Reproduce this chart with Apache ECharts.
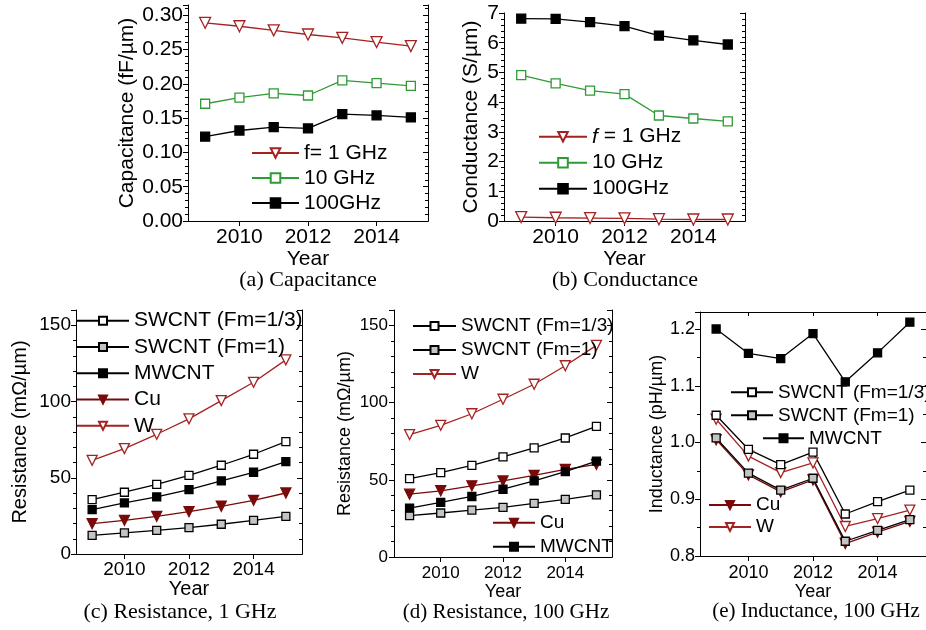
<!DOCTYPE html>
<html>
<head>
<meta charset="utf-8">
<script src="https://cdn.jsdelivr.net/npm/echarts@6/dist/echarts.min.js"></script>
<style>
html, body { margin: 0; padding: 0; background: #fff; }
#chart { width: 926px; height: 630px; }
</style>
</head>
<body>
<div id="chart"></div>
<script>
//years on every x axis, labelled years
const years = [2009, 2010, 2011, 2012, 2013, 2014, 2015];
const yearLabels = [2010, 2012, 2014];

//(a) capacitance (fF/um)
const cap1 = [0.289, 0.284, 0.278, 0.272, 0.267, 0.261, 0.255];
const cap10 = [0.171, 0.180, 0.186, 0.183, 0.205, 0.201, 0.197];
const cap100 = [0.123, 0.132, 0.137, 0.135, 0.156, 0.154, 0.151];

//(b) conductance (S/um)
const cond1 = [0.13, 0.11, 0.10, 0.09, 0.06, 0.05, 0.05];
const cond10 = [4.91, 4.63, 4.39, 4.27, 3.55, 3.45, 3.35];
const cond100 = [6.81, 6.80, 6.69, 6.56, 6.24, 6.08, 5.94];

//(c) resistance, 1 GHz (mOhm/um)
const r1Sw3 = [35.6, 40.5, 45.7, 51.6, 58.2, 65.4, 73.7];
const r1Sw1 = [12.2, 13.8, 15.5, 17.3, 19.5, 22.1, 24.7];
const r1Mw = [29.1, 33.5, 37.4, 42.2, 47.9, 53.6, 60.6];
const r1Cu = [19.9, 22.1, 24.7, 27.8, 31.3, 35.2, 40.0];
const r1W = [61.4, 69.1, 78.5, 88.6, 100.6, 112.6, 127.3];

//(d) resistance, 100 GHz (mOhm/um)
const r100Sw3 = [50.8, 54.6, 59.4, 64.9, 70.7, 77.1, 84.6];
const r100Sw1 = [26.8, 28.5, 30.4, 32.1, 34.7, 37.3, 40.3];
const r100Mw = [31.7, 35.4, 39.2, 43.9, 49.3, 55.3, 62.1];
const r100Cu = [40.7, 42.9, 46.1, 49.3, 52.9, 56.8, 60.0];
const r100W = [79.3, 85.3, 92.8, 102.2, 111.9, 123.9, 137.1];

//(e) inductance, 100 GHz (pH/um)
const indSw3 = [1.048, 0.988, 0.961, 0.983, 0.874, 0.896, 0.916];
const indSw1 = [1.008, 0.946, 0.916, 0.937, 0.826, 0.845, 0.864];
const indMw = [1.200, 1.157, 1.148, 1.192, 1.107, 1.158, 1.212];
const indCu = [1.005, 0.943, 0.913, 0.934, 0.822, 0.842, 0.861];
const indW = [1.041, 0.976, 0.947, 0.964, 0.852, 0.866, 0.881];

const SANS = "Liberation Sans";
const SERIF = "Liberation Serif";
const RED = "#a52222";
const CU = "#7a0a0a";
const GREEN = "#2f9b36";

//panel boxes and axis setup
const panels = [
    { left: 188, top: 5, width: 240, height: 216, min: 0, max: 0.315, interval: 0.05, minor: 5, digits: 2, hideMax: true,
      name: "Capacitance (fF/µm)", nameGap: 50, font: 21, tick: 21, xMargin: 6, yMargin: 5, yearGap: 25 },
    { left: 504, top: 13, width: 241, height: 208, min: 0, max: 7, interval: 1, minor: 5, digits: 0, hideMax: false,
      name: "Conductance (S/µm)", nameGap: 22, font: 21, tick: 21, xMargin: 6, yMargin: 5, yearGap: 25 },
    { left: 76, top: 310, width: 226, height: 244, min: 0, max: 160, interval: 50, minor: 5, digits: 0, hideMax: true,
      name: "Resistance (mΩ/µm)", nameGap: 46, font: 20, tick: 19, xMargin: 6, yMargin: 5, yearGap: 25 },
    { left: 394, top: 310, width: 218, height: 247, min: 0, max: 160, interval: 50, minor: 5, digits: 0, hideMax: true,
      name: "Resistance (mΩ/µm)", nameGap: 40, font: 18, tick: 17, xMargin: 8, yMargin: 6, yearGap: 26 },
    { left: 700, top: 312, width: 228, height: 244, min: 0.8, max: 1.23, interval: 0.1, minor: 2, digits: 1, hideMax: true,
      name: "Inductance (pH/µm)", nameGap: 28, font: 18, tick: 18, xMargin: 8, yMargin: 5, yearGap: 25 }
];

//marker styles
const big = { sq: 9, tri: 11 };
const small = { sq: 8, tri: 10 };
const styles = {
    openDown: (s) => ({ symbol: "triangle", rotate: 180, size: s.tri, fill: "#fff", border: RED, line: RED }),
    cuDown: (s) => ({ symbol: "triangle", rotate: 180, size: s.tri, fill: CU, border: CU, line: CU }),
    greenSq: (s) => ({ symbol: "rect", size: s.sq, fill: "#fff", border: GREEN, line: GREEN }),
    openSq: (s) => ({ symbol: "rect", size: s.sq, fill: "#fff", border: "#000", line: "#000" }),
    graySq: (s) => ({ symbol: "rect", size: s.sq, fill: "#c4c4c4", border: "#000", line: "#000" }),
    blackSq: (s) => ({ symbol: "rect", size: s.sq, fill: "#000", border: "#000", line: "#000" })
};

const grids = [], xAxes = [], yAxes = [];
const axisLine = { show: true, lineStyle: { color: "#000", width: 1 } };

panels.forEach((p, i) => {
    grids.push({ left: p.left, top: p.top, width: p.width, height: p.height });

    xAxes.push({
        gridIndex: i, type: "value", min: 2008.5, max: 2015.5, position: "bottom",
        name: "Year", nameLocation: "middle", nameGap: p.yearGap,
        nameTextStyle: { fontFamily: SANS, fontSize: p.font, color: "#000" },
        axisLine: axisLine,
        axisTick: { show: true, customValues: yearLabels, length: 5, lineStyle: { color: "#000" } },
        axisLabel: {
            customValues: yearLabels, formatter: v => String(v), margin: p.xMargin,
            fontFamily: SANS, fontSize: p.tick, color: "#000"
        },
        splitLine: { show: false }
    });
    xAxes.push({
        gridIndex: i, type: "value", min: 2008.5, max: 2015.5, position: "top",
        axisLine: axisLine,
        axisTick: { show: true, inside: true, customValues: yearLabels, length: 4, lineStyle: { color: "#000" } },
        axisLabel: { show: false },
        splitLine: { show: false }
    });

    yAxes.push({
        gridIndex: i, type: "value", min: p.min, max: p.max, interval: p.interval, position: "left",
        name: p.name, nameLocation: "middle", nameGap: p.nameGap,
        nameTextStyle: { fontFamily: SANS, fontSize: p.font, color: "#000" },
        axisLine: axisLine,
        axisTick: { show: true, length: 5, lineStyle: { color: "#000" } },
        minorTick: { show: true, splitNumber: p.minor, length: 3, lineStyle: { color: "#000" } },
        axisLabel: {
            formatter: v => v.toFixed(p.digits), showMaxLabel: !p.hideMax, margin: p.yMargin,
            fontFamily: SANS, fontSize: p.tick, color: "#000"
        },
        splitLine: { show: false }
    });
    yAxes.push({
        gridIndex: i, type: "value", min: p.min, max: p.max, interval: p.interval, position: "right",
        axisLine: axisLine,
        axisTick: { show: true, inside: true, length: 5, lineStyle: { color: "#000" } },
        minorTick: { show: true, splitNumber: p.minor, length: 3, lineStyle: { color: "#000" } },
        axisLabel: { show: false },
        splitLine: { show: false }
    });
});

//one line series on panel i
function line(name, i, values, st) {
    return {
        name: name, type: "line", xAxisIndex: 2 * i, yAxisIndex: 2 * i,
        data: years.map((y, k) => [y, values[k]]),
        symbol: st.symbol, symbolSize: st.size, symbolRotate: st.rotate || 0,
        showAllSymbol: true,
        lineStyle: { color: st.line, width: 1.3 },
        itemStyle: { color: st.fill, borderColor: st.border, borderWidth: 1.3, opacity: 1 },
        emphasis: { disabled: true }
    };
}

const series = [
    line("f= 1 GHz", 0, cap1, styles.openDown(big)),
    line("10 GHz", 0, cap10, styles.greenSq(big)),
    line("100GHz", 0, cap100, styles.blackSq(big)),

    line("f = 1 GHz", 1, cond1, styles.openDown(big)),
    line("10 GHz", 1, cond10, styles.greenSq(big)),
    line("100GHz", 1, cond100, styles.blackSq(big)),

    line("W", 2, r1W, styles.openDown(small)),
    line("Cu", 2, r1Cu, styles.cuDown(small)),
    line("SWCNT (Fm=1)", 2, r1Sw1, styles.graySq(small)),
    line("MWCNT", 2, r1Mw, styles.blackSq(small)),
    line("SWCNT (Fm=1/3)", 2, r1Sw3, styles.openSq(small)),

    line("W", 3, r100W, styles.openDown(small)),
    line("SWCNT (Fm=1)", 3, r100Sw1, styles.graySq(small)),
    line("SWCNT (Fm=1/3)", 3, r100Sw3, styles.openSq(small)),
    line("Cu", 3, r100Cu, styles.cuDown(small)),
    line("MWCNT", 3, r100Mw, styles.blackSq(small)),

    line("Cu", 4, indCu, styles.cuDown(small)),
    line("W", 4, indW, styles.openDown(small)),
    line("SWCNT (Fm=1)", 4, indSw1, styles.graySq(small)),
    line("SWCNT (Fm=1/3)", 4, indSw3, styles.openSq(small)),
    line("MWCNT", 4, indMw, styles.blackSq(small))
];

//vertical legends placed inside the boxes
function legendAt(names, left, top, width, rowH, font, iconH) {
    return {
        data: names, left: left, top: top, orient: "vertical", padding: 0,
        itemWidth: width, itemHeight: iconH, itemGap: 0, selectedMode: false,
        formatter: n => n === "f = 1 GHz" ? "{i|f} = 1 GHz" : n,
        textStyle: {
            fontFamily: SANS, fontSize: font, lineHeight: rowH, color: "#000",
            rich: { i: { fontFamily: SANS, fontSize: font, fontStyle: "italic", lineHeight: rowH, color: "#000" } }
        }
    };
}

const legends = [
    legendAt(["f= 1 GHz", "10 GHz", "100GHz"], 251, 140.5, 47, 25, 21, 12),
    legendAt(["f = 1 GHz", "10 GHz", "100GHz"], 538, 123.7, 48, 26, 21, 12),
    legendAt(["SWCNT (Fm=1/3)", "SWCNT (Fm=1)", "MWCNT", "Cu", "W"], 76, 307.5, 52, 26.3, 21, 10),
    legendAt(["SWCNT (Fm=1/3)", "SWCNT (Fm=1)", "W"], 412, 314, 43, 24, 19, 10),
    legendAt(["Cu", "MWCNT"], 492, 510.7, 42, 24, 19, 10),
    legendAt(["SWCNT (Fm=1/3)", "SWCNT (Fm=1)"], 730, 380.8, 42, 23, 19, 10),
    legendAt(["MWCNT"], 762, 426.8, 41, 23, 19, 10),
    legendAt(["Cu", "W"], 708, 494, 42, 22, 19, 10)
];

//panel captions
const captions = [
    { text: "(a) Capacitance", x: 308, y: 280, size: 22 },
    { text: "(b) Conductance", x: 625, y: 280, size: 22 },
    { text: "(c) Resistance, 1 GHz", x: 180, y: 612, size: 22 },
    { text: "(d) Resistance, 100 GHz", x: 506, y: 612, size: 21 },
    { text: "(e) Inductance, 100 GHz", x: 816, y: 611, size: 21 }
];

const chart = echarts.init(document.getElementById("chart"));
chart.setOption({
    animation: false,
    backgroundColor: "#fff",
    grid: grids,
    xAxis: xAxes,
    yAxis: yAxes,
    legend: legends,
    series: series,
    graphic: captions.map(c => ({
        type: "text", x: c.x, y: c.y,
        style: { text: c.text, font: c.size + "px '" + SERIF + "'", fill: "#000", textAlign: "center", textVerticalAlign: "middle" }
    }))
});
</script>
</body>
</html>
